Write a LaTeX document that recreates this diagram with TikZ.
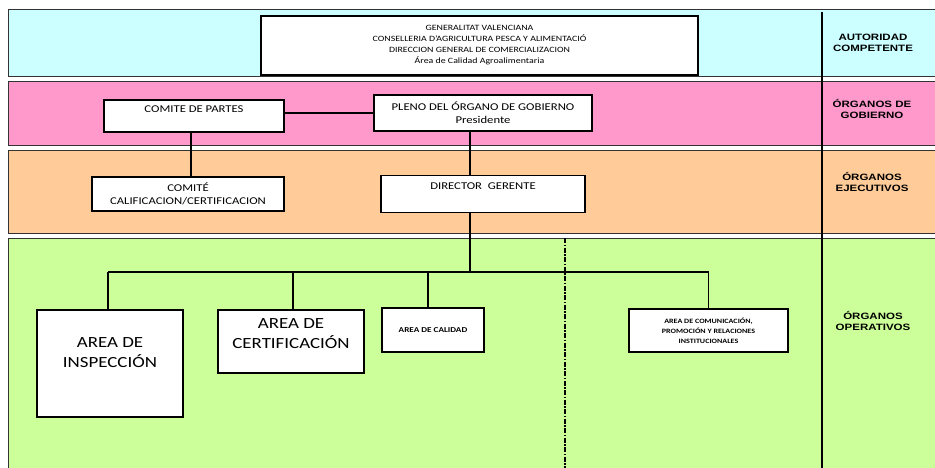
\documentclass[tikz,border=0pt]{standalone}
\usepackage{fontspec}
\setmainfont{Carlito}[FakeStretch=1.22]
\newfontfamily\levelfont{Liberation Sans}[FakeStretch=1.25]
\usetikzlibrary{positioning}

\definecolor{autoridad}{HTML}{CCFFFF}
\definecolor{gobierno}{HTML}{FF99CC}
\definecolor{ejecutivo}{HTML}{FFCC99}
\definecolor{operativo}{HTML}{CCFF99}

\tikzset{
  band/.style={draw=black!80, line width=1pt},
  unit/.style={draw=black, line width=1.6pt, fill=white, align=center, inner sep=0pt,
    font=\fontsize{10.4}{13}\selectfont},
  bigunit/.style={unit, font=\fontsize{15.5}{19.5}\selectfont},
  smallunit/.style={unit, font=\bfseries\fontsize{6.6}{10}\selectfont},
  level/.style={align=center, inner sep=0pt, font=\levelfont\bfseries\fontsize{9.2}{10.8}\selectfont},
  link/.style={line width=1.3pt},
}

\begin{document}
\begin{tikzpicture}[x=1pt, y=-1pt]
  \useasboundingbox (0,0) rectangle (935,468);
  \clip (0,0) rectangle (935,468);

  % bands
  \draw[band, fill=autoridad] (8,10) rectangle (945,77);
  \draw[band, fill=gobierno] (8,82) rectangle (945,146);
  \draw[band, fill=ejecutivo] (8,151) rectangle (945,233);
  \draw[band, fill=operativo] (8,238) rectangle (945,480);
  \draw[line width=2pt] (822,12) -- (822,468);
  \draw[line width=1.5pt, dash pattern=on 5pt off 1.5pt on 1.5pt off 1.5pt] (565,238) -- (565,468);

  % levels
  \node[level] (lvlauth) at (873,43) {AUTORIDAD\\COMPETENTE};
  \node[level] (lvlgob) at (872,109) {ÓRGANOS DE\\GOBIERNO};
  \node[level] (lvlejec) at (872,182) {ÓRGANOS\\EJECUTIVOS};
  \node[level] (lvloper) at (873,321) {ÓRGANOS\\OPERATIVOS};

  % units
  \node[unit, minimum width=437pt, minimum height=59pt, font=\fontsize{8.1}{11}\selectfont] (gen) at (479.5,45.5)
    {GENERALITAT VALENCIANA\\CONSELLERIA D'AGRICULTURA PESCA Y ALIMENTACIÓ\\DIRECCION GENERAL DE COMERCIALIZACION\\Área de Calidad Agroalimentaria};
  \node[unit, minimum width=180pt, minimum height=32pt, text height=13pt, text depth=19pt] (cpartes) at (194,116) {COMITE DE PARTES};
  \node[unit, minimum width=218pt, minimum height=36pt] (pleno) at (483,113) {PLENO DEL ÓRGANO DE GOBIERNO\\Presidente};
  \node[unit, minimum width=192pt, minimum height=34pt] (ccalif) at (188,194) {COMITÉ\\CALIFICACION/CERTIFICACION};
  \node[unit, minimum width=204pt, minimum height=37pt, text height=14pt, text depth=23pt, below=43pt of pleno] (director) {DIRECTOR\ \ GERENTE};

  \node[bigunit, minimum width=146pt, minimum height=107pt, text height=57pt, text depth=50pt] (insp) at (110,363.5) {AREA DE\\INSPECCIÓN};
  \node[bigunit, minimum width=146pt, minimum height=63pt, text height=38pt, text depth=25pt] (cert) at (291,341.5) {AREA DE\\CERTIFICACIÓN};
  \node[unit, minimum width=102pt, minimum height=44pt, font=\bfseries\fontsize{7.5}{9}\selectfont] (cal) at (433,330) {AREA DE CALIDAD};
  \node[smallunit, minimum width=159pt, minimum height=43pt] (com) at (708.5,330.5) {AREA DE COMUNICACIÓN,\\PROMOCIÓN Y RELACIONES\\INSTITUCIONALES};

  % links
  \coordinate (trunk) at (470,0);
  \coordinate (bus) at (470,272);
  \draw[link] (pleno.west) -- (pleno.west -| cpartes.east);
  \draw[link] ([xshift=-3pt]cpartes.south) -- ([xshift=-3pt]cpartes.south |- ccalif.north);
  \draw[link] (pleno.south -| trunk) -- (director.north -| trunk);
  \draw[link] (director.south -| trunk) -- (bus);
  \draw[link] ([xshift=-2pt]bus -| insp.north) -- (bus -| com.north);
  \draw[link] ([xshift=-2pt]insp.north |- bus) -- ([xshift=-2pt]insp.north);
  \draw[link] ([xshift=2pt]cert.north |- bus) -- ([xshift=2pt]cert.north);
  \draw[link] ([xshift=-5pt]cal.north |- bus) -- ([xshift=-5pt]cal.north);
  \draw[link] (com.north |- bus) -- (com.north);
\end{tikzpicture}
\end{document}
